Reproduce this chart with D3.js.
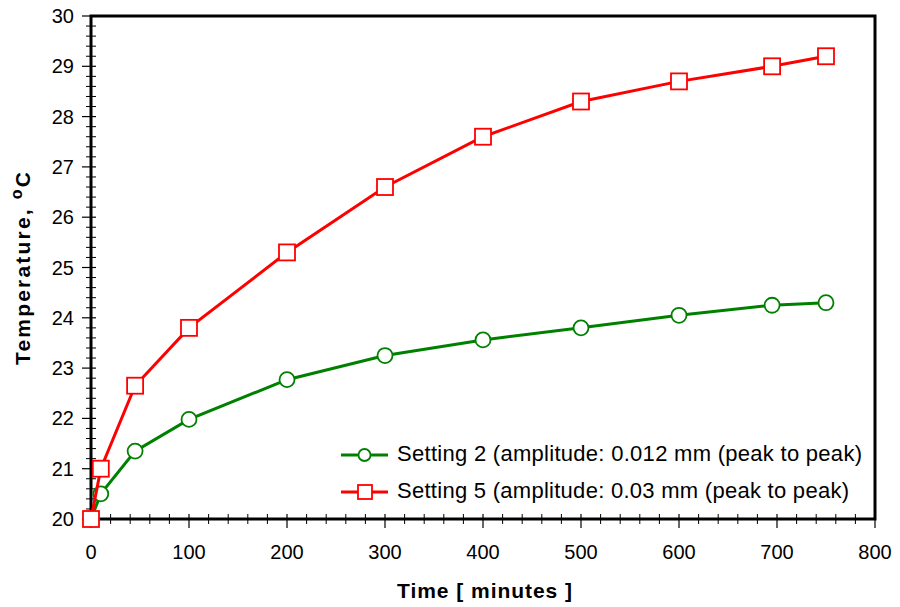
<!DOCTYPE html>
<html><head><meta charset="utf-8">
<script src="https://cdn.jsdelivr.net/npm/d3@7"></script>
<style>body{margin:0;background:#fff}svg{font-family:"Liberation Sans",Arial,sans-serif}</style>
</head><body>
<svg id="c" width="900" height="607"></svg>
<script>
const timeMin = [0, 10, 45, 100, 200, 300, 400, 500, 600, 695, 750];
const setting2 = [20, 20.5, 21.35, 21.98, 22.77, 23.25, 23.56, 23.8, 24.05, 24.25, 24.3];
const setting5 = [20, 21, 22.65, 23.8, 25.3, 26.6, 27.6, 28.3, 28.7, 29.0, 29.2];
const seriesNames = ["Setting 2 (amplitude: 0.012 mm (peak to peak)", "Setting 5 (amplitude: 0.03 mm (peak to peak)"];
const xTicks = [0,100,200,300,400,500,600,700,800];
const yTicks = [20,21,22,23,24,25,26,27,28,29,30];

const svg = d3.select("#c");
const L=91,R=875,T=16,B=519;
const x = d3.scaleLinear().domain([0,800]).range([L,R]);
const y = d3.scaleLinear().domain([20,30]).range([B,T]);

// minor ticks
const xMinor = d3.range(0,801,20).filter(v=>v%100!==0);
const yMinor = d3.range(20,30.001,0.2).filter(v=>Math.abs(v-Math.round(v))>0.01);
const g = svg.append("g");
g.selectAll(".xm").data(xMinor).join("line").attr("x1",d=>x(d)).attr("x2",d=>x(d)).attr("y1",B-5).attr("y2",B+5).attr("stroke","#000").attr("stroke-width",1);
g.selectAll(".xM").data(xTicks).join("line").attr("x1",d=>x(d)).attr("x2",d=>x(d)).attr("y1",B-5).attr("y2",B+9).attr("stroke","#000").attr("stroke-width",1.2);
g.selectAll(".ym").data(yMinor).join("line").attr("x1",L-5).attr("x2",L+5).attr("y1",d=>y(d)).attr("y2",d=>y(d)).attr("stroke","#000").attr("stroke-width",1);
g.selectAll(".yM").data(yTicks).join("line").attr("x1",L-9).attr("x2",L+5).attr("y1",d=>y(d)).attr("y2",d=>y(d)).attr("stroke","#000").attr("stroke-width",1.2);

// frame
svg.append("rect").attr("x",L).attr("y",T).attr("width",R-L).attr("height",B-T).attr("fill","none").attr("stroke","#000").attr("stroke-width",3);

// tick labels
svg.selectAll(".xl").data(xTicks).join("text").attr("x",d=>x(d)).attr("y",559).attr("text-anchor","middle").attr("font-size",20).text(d=>d);
svg.selectAll(".yl").data(yTicks).join("text").attr("x",74).attr("y",d=>y(d)+7).attr("text-anchor","end").attr("font-size",20).text(d=>d);

// axis titles
svg.append("text").attr("x",397).attr("y",598).attr("font-size",21).attr("font-weight","bold")
  .attr("textLength",175).attr("lengthAdjust","spacing").text("Time [ minutes ]");
const yt = svg.append("text").attr("transform","translate(30,365) rotate(-90)").attr("font-size",21).attr("font-weight","bold")
  .attr("textLength",193).attr("lengthAdjust","spacing");
yt.append("tspan").text("Temperature,  ");
yt.append("tspan").attr("font-size",16).attr("dy",-8).text("o");
yt.append("tspan").attr("dy",8).text("C");

const line = d3.line().x(d=>x(d[0])).y(d=>y(d[1]));
const d2 = timeMin.map((t,i)=>[t,setting2[i]]);
const d5 = timeMin.map((t,i)=>[t,setting5[i]]);
const green="#008000", red="#ff0000";

svg.append("path").datum(d2).attr("d",line).attr("fill","none").attr("stroke",green).attr("stroke-width",3);
svg.selectAll(".c2").data(d2).join("circle").attr("cx",d=>x(d[0])).attr("cy",d=>y(d[1])).attr("r",7.5).attr("fill","#fff").attr("stroke",green).attr("stroke-width",1.8);
svg.append("path").datum(d5).attr("d",line).attr("fill","none").attr("stroke",red).attr("stroke-width",3);
svg.selectAll(".s5").data(d5).join("rect").attr("x",d=>x(d[0])-8).attr("y",d=>y(d[1])-8).attr("width",16).attr("height",16).attr("fill","#fff").attr("stroke",red).attr("stroke-width",1.8);

// legend
const lg = svg.append("g");
const ly=[455,492];
const lw=[465,452];
lg.append("line").attr("x1",341).attr("x2",388).attr("y1",ly[0]).attr("y2",ly[0]).attr("stroke",green).attr("stroke-width",3);
lg.append("circle").attr("cx",364.5).attr("cy",ly[0]).attr("r",6).attr("fill","#fff").attr("stroke",green).attr("stroke-width",1.8);
lg.append("line").attr("x1",341).attr("x2",388).attr("y1",ly[1]).attr("y2",ly[1]).attr("stroke",red).attr("stroke-width",3);
lg.append("rect").attr("x",358).attr("y",ly[1]-7).attr("width",14).attr("height",14).attr("fill","#fff").attr("stroke",red).attr("stroke-width",1.8);
seriesNames.forEach((n,i)=>lg.append("text").attr("x",397).attr("y",ly[i]+6).attr("font-size",22)
  .attr("textLength",lw[i]).attr("lengthAdjust","spacing").text(n));
</script>
</body></html>
